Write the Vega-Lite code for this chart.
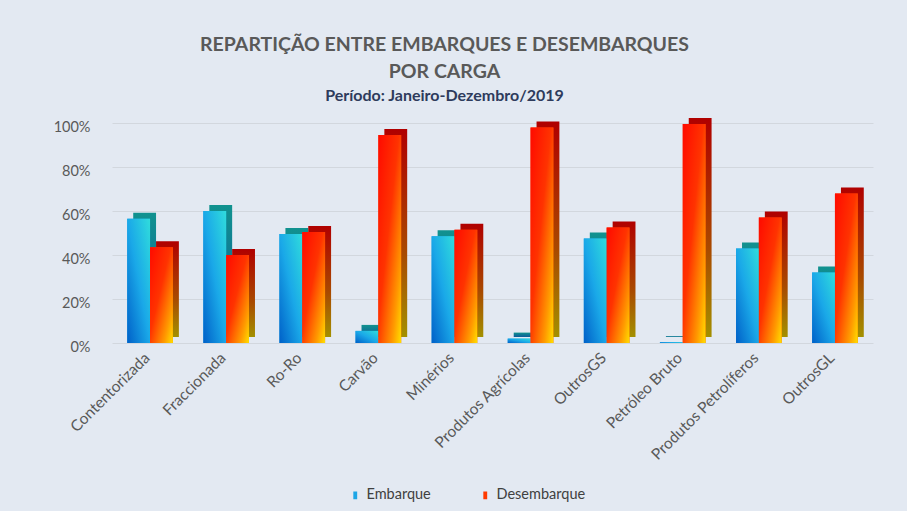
{
  "$schema": "https://vega.github.io/schema/vega-lite/v6.json",
  "width": 761,
  "height": 220,
  "autosize": {"type": "none"},
  "padding": {"left": 112, "top": 123, "right": 34, "bottom": 168},
  "background": "#e3e9f2",
  "title": {
    "text": ["REPARTIÇÃO ENTRE EMBARQUES E DESEMBARQUES", "POR CARGA"],
    "subtitle": "Período: Janeiro-Dezembro/2019",
    "anchor": "middle",
    "dx": -48,
    "font": "Lato",
    "fontSize": 19.5,
    "fontWeight": "bold",
    "color": "#595959",
    "lineHeight": 27,
    "subtitleFont": "Lato",
    "subtitleFontSize": 16,
    "subtitleFontWeight": "bold",
    "subtitleColor": "#2e3b5c",
    "subtitlePadding": 5,
    "offset": 13
  },
  "data": {
    "values": [
      {"carga": "Contentorizada", "serie": "Embarque", "valor": 56.5},
      {"carga": "Contentorizada", "serie": "Desembarque", "valor": 43.5},
      {"carga": "Fraccionada", "serie": "Embarque", "valor": 60},
      {"carga": "Fraccionada", "serie": "Desembarque", "valor": 40},
      {"carga": "Ro-Ro", "serie": "Embarque", "valor": 49.5},
      {"carga": "Ro-Ro", "serie": "Desembarque", "valor": 50.5},
      {"carga": "Carvão", "serie": "Embarque", "valor": 5.5},
      {"carga": "Carvão", "serie": "Desembarque", "valor": 94.5},
      {"carga": "Minérios", "serie": "Embarque", "valor": 48.5},
      {"carga": "Minérios", "serie": "Desembarque", "valor": 51.5},
      {"carga": "Produtos Agrícolas", "serie": "Embarque", "valor": 2},
      {"carga": "Produtos Agrícolas", "serie": "Desembarque", "valor": 98},
      {"carga": "OutrosGS", "serie": "Embarque", "valor": 47.5},
      {"carga": "OutrosGS", "serie": "Desembarque", "valor": 52.5},
      {"carga": "Petróleo Bruto", "serie": "Embarque", "valor": 0.4},
      {"carga": "Petróleo Bruto", "serie": "Desembarque", "valor": 99.6},
      {"carga": "Produtos Petrolíferos", "serie": "Embarque", "valor": 43},
      {"carga": "Produtos Petrolíferos", "serie": "Desembarque", "valor": 57},
      {"carga": "OutrosGL", "serie": "Embarque", "valor": 32},
      {"carga": "OutrosGL", "serie": "Desembarque", "valor": 68}
    ]
  },
  "encoding": {
    "x": {
      "field": "carga",
      "type": "nominal",
      "sort": null,
      "scale": {"paddingInner": 0.4, "paddingOuter": 0.2},
      "axis": {
        "title": null,
        "domain": false,
        "ticks": false,
        "labelAngle": -45,
        "labelAlign": "right",
        "labelBaseline": "middle",
        "labelPadding": 12,
        "labelOffset": -3,
        "labelFont": "Lato",
        "labelFontSize": 15.5,
        "labelColor": "#595959"
      }
    },
    "y": {
      "field": "valor",
      "type": "quantitative",
      "scale": {"domain": [0, 100]},
      "axis": {
        "title": null,
        "values": [0, 20, 40, 60, 80, 100],
        "labelExpr": "datum.value + '%'",
        "domain": false,
        "ticks": false,
        "grid": true,
        "gridColor": "#d2d7de",
        "labelPadding": 22,
        "labelOffset": 4,
        "labelFont": "Lato",
        "labelFontSize": 14.5,
        "labelColor": "#595959"
      }
    }
  },
  "layer": [
    {
      "layer": [
        {
          "transform": [{"filter": "datum.serie === 'Embarque'"}],
          "mark": {"type": "bar", "yOffset": -6,
            "color": {"gradient": "linear", "x1": 0, "y1": 0, "x2": 0, "y2": 1, "stops": [{"offset": 0, "color": "#11928f"}, {"offset": 1, "color": "#0b5a9a"}]}}
        },
        {
          "transform": [{"filter": "datum.serie === 'Desembarque'"}],
          "mark": {"type": "bar", "yOffset": -6,
            "color": {"gradient": "linear", "x1": 0, "y1": 0, "x2": 0, "y2": 1, "stops": [{"offset": 0, "color": "#b00000"}, {"offset": 0.6, "color": "#a84a00"}, {"offset": 1, "color": "#a39000"}]}}
        }
      ],
      "encoding": {
        "xOffset": {"field": "serie", "type": "nominal", "scale": {"domain": ["Embarque", "Desembarque"], "range": [6, 51.66]}}
      }
    },
    {
      "layer": [
        {
          "mark": {"type": "bar"},
          "encoding": {
            "color": {
              "field": "serie",
              "type": "nominal",
              "scale": {"domain": ["Embarque", "Desembarque"], "range": ["#1ea6e6", "#ff3a00"]},
              "legend": {
                "title": null,
                "orient": "none",
                "legendX": 236,
                "legendY": 365,
                "direction": "horizontal",
                "symbolType": "M-0.5,-1L0.5,-1L0.5,1L-0.5,1Z",
                "symbolSize": 60,
                "symbolStrokeWidth": 0,
                "symbolOpacity": 1,
                "columnPadding": 47,
                "labelFont": "Lato",
                "labelFontSize": 14.5,
                "labelColor": "#404040"
              }
            }
          }
        },
        {
          "transform": [{"filter": "datum.serie === 'Embarque'"}],
          "mark": {"type": "bar",
            "color": {"gradient": "linear", "x1": 0, "y1": 1, "x2": 1, "y2": 0, "stops": [{"offset": 0, "color": "#0060c8"}, {"offset": 0.5, "color": "#1aa8e8"}, {"offset": 1, "color": "#30dcdc"}]}}
        },
        {
          "transform": [{"filter": "datum.serie === 'Desembarque'"}],
          "mark": {"type": "bar",
            "color": {"gradient": "linear", "x1": 0, "y1": 0, "x2": 1, "y2": 1, "stops": [{"offset": 0, "color": "#ff0a00"}, {"offset": 0.45, "color": "#ff3300"}, {"offset": 0.8, "color": "#ff9a00"}, {"offset": 1, "color": "#ffe000"}]}}
        }
      ],
      "encoding": {
        "xOffset": {"field": "serie", "type": "nominal", "scale": {"domain": ["Embarque", "Desembarque"]}}
      }
    }
  ],
  "resolve": {"scale": {"xOffset": "independent"}},
  "config": {"view": {"stroke": null}}
}
